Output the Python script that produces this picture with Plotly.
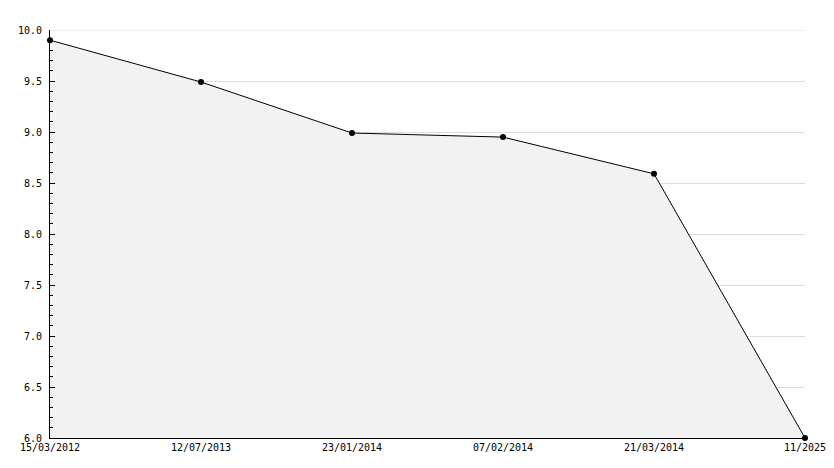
import plotly.graph_objects as go

dates = ["15/03/2012", "12/07/2013", "23/01/2014", "07/02/2014", "21/03/2014", "11/2025"]
values = [9.9, 9.49, 8.99, 8.95, 8.59, 6.0]
y_ticks = [6.0, 6.5, 7.0, 7.5, 8.0, 8.5, 9.0, 9.5, 10.0]

x_idx = list(range(len(dates)))

fig = go.Figure()
fig.add_trace(go.Scatter(
    x=x_idx, y=values, mode="lines+markers",
    fill="tozeroy", fillcolor="#f2f2f2",
    line=dict(color="black", width=1),
    marker=dict(color="black", size=6, symbol="circle"),
    hoverinfo="skip", cliponaxis=False,
))

# top grid line at the upper edge of the value range
fig.add_hline(y=max(y_ticks), line=dict(color="#dddddd", width=1), layer="below")

# page body has an 8px default margin; compensate so the plot area sits at x=50..805, y=30..438
fig.update_layout(
    width=826, height=460,
    margin=dict(l=42, r=29, t=22, b=30),
    paper_bgcolor="white", plot_bgcolor="white",
    showlegend=False,
    font=dict(family="DejaVu Sans Mono", size=10, color="black"),
    xaxis=dict(
        range=[0, len(dates) - 1],
        tickvals=x_idx, ticktext=dates,
        showgrid=False, zeroline=False,
        showline=True, linecolor="black", linewidth=1,
        ticks="", ticklabelstandoff=0, automargin=False,
    ),
    yaxis=dict(
        range=[6.0, 10.0],
        tickvals=y_ticks, tickformat=".1f",
        showgrid=True, gridcolor="#dddddd", gridwidth=1,
        zeroline=False,
        showline=True, linecolor="black", linewidth=1,
        ticks="inside", ticklen=5, tickcolor="black",
        ticklabelstandoff=5, automargin=False,
        minor=dict(ticks="inside", ticklen=3, dtick=0.1, tickcolor="black", showgrid=False),
    ),
)

fig.write_html("out.html")
